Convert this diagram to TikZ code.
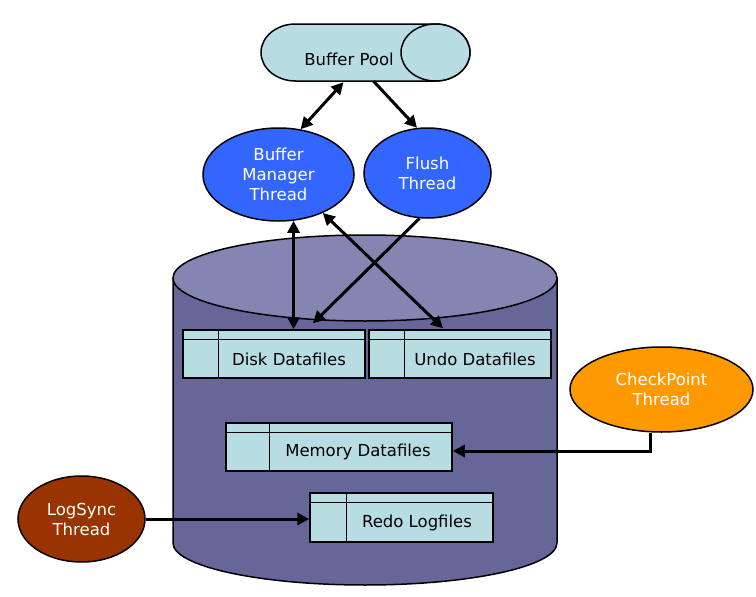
\documentclass[tikz,border=0pt]{standalone}
\usepackage{fontspec}
\setmainfont{DejaVu Sans}
\usetikzlibrary{arrows.meta,shapes.geometric,calc}
\definecolor{aqua}{HTML}{B7DDE2}
\definecolor{thblue}{HTML}{3366FF}
\definecolor{cylbody}{HTML}{666699}
\definecolor{cyltop}{HTML}{8585B2}
\definecolor{cporange}{HTML}{FF9900}
\definecolor{lsbrown}{HTML}{993300}
\newcommand{\filebox}[7]{%
  \node[fbx, minimum width=#4pt, minimum height=#5pt] (#1) at (#2,#3) {};
  \draw[inl] ([yshift=-10pt]#1.north west) -- ([yshift=-10pt]#1.north east);
  \draw[inl] ([xshift=#6pt]#1.north west) -- ([xshift=#6pt]#1.south west);
  \node[lbl] (#1t) at ($([xshift=#6pt,yshift=-10pt]#1.north west)!0.5!(#1.south east)+(-3,0)$) {#7};
}
\begin{document}
\begin{tikzpicture}[x=1pt,y=-1pt,
  outl/.style={draw=black,line width=1.5pt},
  inl/.style={draw=black,line width=1.5pt},
  thr/.style={ellipse,outl,inner sep=0pt,text=white,align=center,font=\fontsize{16.5}{20}\selectfont},
  conn/.style={line width=3pt,-{Triangle[length=12pt,width=12pt]}},
  bconn/.style={line width=3pt,{Triangle[length=12pt,width=12pt]}-{Triangle[length=12pt,width=12pt]}},
  fbx/.style={rectangle,outl,fill=aqua,inner sep=0pt},
  lbl/.style={font=\fontsize{16.5}{20}\selectfont,inner sep=0pt}]
\useasboundingbox (0,0) rectangle (756,597);
\fill[white] (0,0) rectangle (756,597);

% Buffer pool (horizontal cylinder)
\filldraw[outl,fill=aqua] (295.5,24) -- (435.5,24)
  arc[start angle=90,end angle=-90,x radius=34.5pt,y radius=28.5pt]
  -- (295.5,81)
  arc[start angle=270,end angle=90,x radius=34.5pt,y radius=28.5pt] -- cycle;
\filldraw[outl,fill=aqua] (435.5,52.5) ellipse[x radius=34.5pt,y radius=28.5pt];
\node[rectangle,inner sep=0pt,minimum width=209pt,minimum height=57pt] (bp) at (365.5,52.5) {};
\node[lbl] (bpt) at (349,59) {Buffer Pool};

% Big storage cylinder
\filldraw[outl,fill=cylbody] (173,278) -- (173,543)
  arc[start angle=180,end angle=360,x radius=192pt,y radius=42pt]
  -- (557,278) -- cycle;
\filldraw[outl,fill=cyltop] (365,278) ellipse[x radius=192pt,y radius=43pt];

% File boxes
\filebox{dk}{274}{354}{182}{48}{36}{Disk Datafiles}
\filebox{ud}{460}{354}{182}{48}{36}{Undo Datafiles}
\filebox{mem}{339}{447}{226}{48}{44}{Memory Datafiles}
\filebox{rd}{401.5}{517.5}{183}{49}{37}{Redo Logfiles}

% Threads
\node[thr,fill=thblue,minimum width=151pt,minimum height=93pt] (bm) at (278.5,174.5) {Buffer\\Manager\\Thread};
\node[thr,fill=thblue,minimum width=127pt,minimum height=90pt] (fl) at (427.5,173) {Flush\\Thread};
\node[thr,fill=cporange,minimum width=183pt,minimum height=85pt] (cp) at (661.5,389.5) {CheckPoint\\Thread};
\node[thr,fill=lsbrown,minimum width=127pt,minimum height=86pt] (ls) at (81.5,519) {LogSync\\Thread};

% Connectors
\draw[bconn] ([xshift=-22pt,yshift=-1pt]bp.south) -- (bm.64);
\draw[conn] ([xshift=8pt]bp.south) -- (fl.103);
\draw[bconn] (bm.-72) -- (bm.-72 |- dk.north);
\draw[bconn] (bm.-41) -- ([xshift=-17pt,yshift=1pt]ud.north);
\draw[conn] (fl.-100) -- ([xshift=39pt,yshift=6pt]dk.north);
\draw[conn] ([xshift=-11pt]cp.south) |- ([yshift=-4pt]mem.east);
\draw[conn] (ls.east) -- (ls.east -| rd.west);
\end{tikzpicture}
\end{document}
